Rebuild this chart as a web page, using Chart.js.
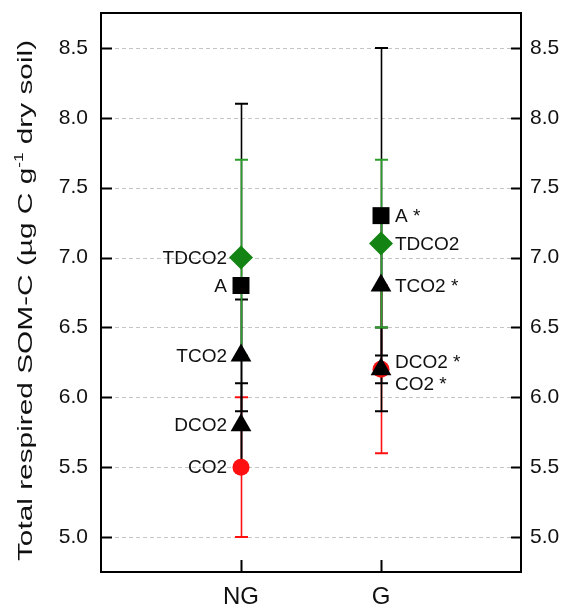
<!DOCTYPE html>
<html>
<head>
<meta charset="utf-8">
<script src="https://cdn.jsdelivr.net/npm/chart.js@4.4.1/dist/chart.umd.min.js"></script>
<style>
  body { margin: 0; background: #fff; }
  canvas { display: block; }
</style>
</head>
<body>
<canvas id="myChart" width="568" height="605"></canvas>
<script>
// categories on the x axis
const categories = ["NG", "G"];
const categoryX = [1, 2];

// mean values and error (+/-) for each series, NG then G
const aValues = [6.8, 7.3];
const aErrors = [1.3, 1.2];
const tdco2Values = [7.0, 7.1];
const tdco2Errors = [0.7, 0.6];
const tco2Values = [6.3, 6.8];
const tco2Errors = [0.4, 0.5];
const dco2Values = [5.8, 6.2];
const dco2Errors = [0.3, 0.3];
const co2Values = [5.5, 6.2];
const co2Errors = [0.5, 0.6];

// text next to the points
const ngLabels = ["A", "TDCO2", "TCO2", "DCO2", "CO2"];
const gLabels = ["A *", "TDCO2", "TCO2 *", "DCO2 *", "CO2 *"];

const yTicks = [5.0, 5.5, 6.0, 6.5, 7.0, 7.5, 8.0, 8.5];

const FONT = "'Liberation Sans', Arial, sans-serif";
const GREEN = "#138413";
const GREEN_BAR = "#2c9e2c";
const RED = "#ff1010";

// drawing order: first one ends up on top
const series = [
  { name: "TCO2", values: tco2Values, errors: tco2Errors, style: "triangle", radius: 12, color: "#000", bar: "#000" },
  { name: "DCO2", values: dco2Values, errors: dco2Errors, style: "triangle", radius: 12, color: "#000", bar: "#000" },
  { name: "A", values: aValues, errors: aErrors, style: "rect", radius: 12, color: "#000", bar: "#000" },
  { name: "TDCO2", values: tdco2Values, errors: tdco2Errors, style: "rectRot", radius: 12, color: GREEN, bar: GREEN_BAR },
  { name: "CO2", values: co2Values, errors: co2Errors, style: "circle", radius: 8.5, color: RED, bar: RED },
];
const labelIndex = { A: 0, TDCO2: 1, TCO2: 2, DCO2: 3, CO2: 4 };
// small vertical nudges for labels that would overlap (G side)
const gLabelShift = { DCO2: -8, CO2: 14 };

const errorOrder = ["CO2", "A", "TCO2", "DCO2", "TDCO2"];

const datasets = series.map((s) => ({
  label: s.name,
  data: s.values.map((v, i) => ({ x: categoryX[i], y: v })),
  pointStyle: s.style,
  pointRadius: s.radius,
  pointHoverRadius: s.radius,
  backgroundColor: s.color,
  borderColor: s.color,
  pointBorderWidth: 0,
  showLine: false,
}));

const errorBars = {
  id: "errorBars",
  beforeDatasetsDraw(chart) {
    const ctx = chart.ctx;
    const xs = chart.scales.x;
    const ys = chart.scales.y;
    const area = chart.chartArea;

    // dashed grid
    ctx.save();
    ctx.strokeStyle = "#c4c4c4";
    ctx.lineWidth = 1;
    ctx.setLineDash([4, 3]);
    yTicks.forEach((t) => {
      const y = Math.round(ys.getPixelForValue(t)) + 0.5;
      ctx.beginPath();
      ctx.moveTo(area.left, y);
      ctx.lineTo(area.right, y);
      ctx.stroke();
    });
    ctx.restore();

    ctx.save();
    errorOrder.forEach((name) => {
      const s = series.find((d) => d.name === name);
      ctx.strokeStyle = s.bar;
      s.values.forEach((v, i) => {
        const x = Math.round(xs.getPixelForValue(categoryX[i])) + 0.5;
        const yHi = ys.getPixelForValue(v + s.errors[i]);
        const yLo = ys.getPixelForValue(v - s.errors[i]);
        ctx.lineWidth = 1.6;
        ctx.beginPath();
        ctx.moveTo(x, yHi);
        ctx.lineTo(x, yLo);
        ctx.stroke();
        ctx.lineWidth = 2;
        ctx.beginPath();
        ctx.moveTo(x - 6.5, yHi);
        ctx.lineTo(x + 6.5, yHi);
        ctx.moveTo(x - 6.5, yLo);
        ctx.lineTo(x + 6.5, yLo);
        ctx.stroke();
      });
    });
    ctx.restore();
  },
  afterDraw(chart) {
    const ctx = chart.ctx;
    const xs = chart.scales.x;
    const ys = chart.scales.y;
    const area = chart.chartArea;
    const L = Math.round(area.left);
    const R = Math.round(area.right);
    const T = Math.round(area.top);
    const B = Math.round(area.bottom);

    // frame and inward ticks
    ctx.save();
    ctx.strokeStyle = "#000";
    ctx.lineWidth = 2;
    ctx.beginPath();
    ctx.moveTo(L - 1, T);
    ctx.lineTo(R + 1, T);
    ctx.moveTo(R, T);
    ctx.lineTo(R, B);
    ctx.moveTo(R + 1, B);
    ctx.lineTo(L - 1, B);
    ctx.moveTo(L, B);
    ctx.lineTo(L, T);
    yTicks.forEach((t) => {
      const y = Math.round(ys.getPixelForValue(t)) + 0.5;
      ctx.moveTo(L, y);
      ctx.lineTo(L + 11, y);
      ctx.moveTo(R, y);
      ctx.lineTo(R - 10, y);
    });
    categoryX.forEach((c) => {
      const x = Math.round(xs.getPixelForValue(c)) + 0.5;
      ctx.moveTo(x, B);
      ctx.lineTo(x, B - 12);
    });
    ctx.stroke();
    ctx.restore();

    // point labels
    ctx.save();
    ctx.font = "19px " + FONT;
    ctx.fillStyle = "#111";
    ctx.textBaseline = "middle";
    series.forEach((s) => {
      const k = labelIndex[s.name];
      s.values.forEach((v, i) => {
        const x = xs.getPixelForValue(categoryX[i]);
        const y = ys.getPixelForValue(v);
        if (i === 0) {
          ctx.textAlign = "right";
          ctx.fillText(ngLabels[k], x - 14, y + 1);
        } else {
          ctx.textAlign = "left";
          ctx.fillText(gLabels[k], x + 14, y + 1 + (gLabelShift[s.name] || 0));
        }
      });
    });
    ctx.restore();

    // y axis title, stretched along its length like the original
    const part1 = "Total respired SOM-C (\u00b5g C g";
    const sup = "-1";
    const part2 = " dry soil)";
    ctx.save();
    ctx.fillStyle = "#111";
    ctx.translate(32, (area.top + area.bottom) / 2 + 8);
    ctx.rotate(-Math.PI / 2);
    ctx.scale(1.42, 1);
    ctx.textBaseline = "alphabetic";
    ctx.textAlign = "left";
    ctx.font = "21px " + FONT;
    const w1 = ctx.measureText(part1).width;
    const w2 = ctx.measureText(part2).width;
    ctx.font = "12px " + FONT;
    const ws = ctx.measureText(sup).width;
    let x0 = -(w1 + ws + w2) / 2;
    ctx.font = "21px " + FONT;
    ctx.fillText(part1, x0, 0);
    ctx.font = "12px " + FONT;
    ctx.fillText(sup, x0 + w1, -9);
    ctx.font = "21px " + FONT;
    ctx.fillText(part2, x0 + w1 + ws, 0);
    ctx.restore();
  },
};

const yTickOptions = (padding) => ({
  padding: padding,
  color: "#111",
  font: { family: FONT, size: 21 },
  callback: (v) => Number(v).toFixed(1),
});

const fitY = (width) => (scale) => {
  scale.width = width;
  scale.paddingTop = 0;
  scale.paddingBottom = 0;
};

const config = {
  type: "scatter",
  data: { datasets },
  options: {
    responsive: false,
    animation: false,
    devicePixelRatio: 1,
    layout: { padding: { top: 13, left: 0, right: 0, bottom: 0 } },
    plugins: {
      legend: { display: false },
      tooltip: { enabled: false },
    },
    scales: {
      x: {
        type: "linear",
        min: 0,
        max: 3,
        grid: { display: false, drawTicks: false },
        border: { display: false },
        afterBuildTicks: (scale) => {
          scale.ticks = categoryX.map((v) => ({ value: v }));
        },
        afterFit: (scale) => {
          scale.height = 33;
          scale.paddingLeft = 0;
          scale.paddingRight = 0;
        },
        ticks: {
          padding: 11,
          color: "#111",
          font: { family: FONT, size: 24 },
          callback: (v) => categories[categoryX.indexOf(v)] || "",
        },
      },
      y: {
        position: "left",
        min: 4.75,
        max: 8.75,
        grid: { display: false, drawTicks: false },
        border: { display: false },
        afterBuildTicks: (scale) => {
          scale.ticks = yTicks.map((v) => ({ value: v }));
        },
        afterFit: fitY(101),
        ticks: yTickOptions(13),
      },
      y2: {
        position: "right",
        min: 4.75,
        max: 8.75,
        grid: { display: false, drawTicks: false },
        border: { display: false },
        afterBuildTicks: (scale) => {
          scale.ticks = yTicks.map((v) => ({ value: v }));
        },
        afterFit: fitY(47),
        ticks: yTickOptions(9),
      },
    },
  },
  plugins: [errorBars],
};

new Chart(document.getElementById("myChart"), config);
</script>
</body>
</html>
